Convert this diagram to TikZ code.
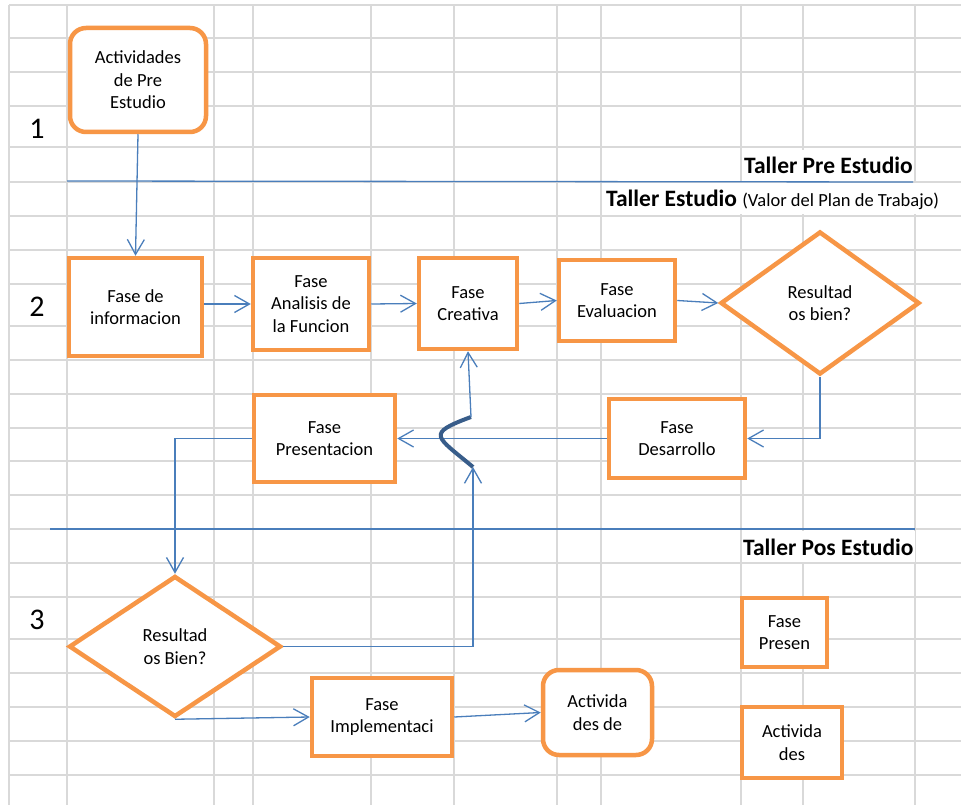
\documentclass[tikz,border=0pt]{standalone}
\usepackage{fontspec}
\setmainfont{Carlito}
\usetikzlibrary{shapes.geometric, arrows.meta}

\definecolor{naranja}{HTML}{F79646}
\definecolor{azul}{HTML}{4A7EBB}
\definecolor{azuloscuro}{HTML}{385D8A}
\definecolor{rejilla}{HTML}{D9D9D9}

\begin{document}
\begin{tikzpicture}[x=1pt, y=-1pt,
        caja/.style={draw=naranja, line width=4.5pt, fill=white, align=center, inner sep=0pt,
            font=\fontsize{18.5}{22.5}\selectfont},
        fase/.style={caja, rectangle},
        actividad/.style={caja, rectangle, rounded corners=16pt},
        decision/.style={caja, diamond},
        flecha/.style={->, >={Straight Barb[length=15pt, width=17pt]}, draw=azul, line width=1.3pt},
        linea/.style={draw=azul, line width=1.3pt},
        salto/.style={draw=azuloscuro, line width=4pt},
        titulo/.style={fill=white, inner xsep=1pt, inner ysep=0pt, text height=24pt, text depth=7pt,
            font=\fontsize{23.5}{28}\selectfont\bfseries},
        numero/.style={font=\fontsize{30}{36}\selectfont},
    ]
    \useasboundingbox (0,0) rectangle (961,805);
    \fill[white] (0,0) rectangle (961,805);

    % Grid
    \foreach \gx in {9,67,214,253,371,454,557,601,741,803,915}
        \draw[rejilla, line width=1.2pt] (\gx,5) -- (\gx,805);
    \foreach \gy in {5,38,72,106,147,182,216,250,284,326,360,394,428,461,495,529,563,597,639,673,707,741,775}
        \draw[rejilla, line width=1.2pt] (9,\gy) -- (961,\gy);

    % Titles
    \node[titulo, anchor=base east] (taller_pre) at (914,174) {Taller Pre Estudio};
    \node[titulo, anchor=base west] (taller_estudio) at (605,207) {Taller Estudio {\mdseries\fontsize{18.5}{22}\selectfont(Valor del Plan de Trabajo)}};
    \node[titulo, anchor=base west] (taller_pos) at (742,555) {Taller Pos Estudio};
    \node[numero] (num_uno) at (37,129) {1};
    \node[numero] (num_dos) at (37,307) {2};
    \node[numero] (num_tres) at (37,620) {3};

    \draw[linea] (67,181) -- (913,182);
    \draw[linea] (50,529) -- (915,529);

    % Nodes
    \node[actividad, minimum width=136pt, minimum height=104pt] (act_pre) at (138,80) {Actividades\\de Pre\\Estudio};
    \node[fase, minimum width=133pt, minimum height=98pt] (fase_info) at (135.5,307) {Fase de\\informacion};
    \node[fase, minimum width=116pt, minimum height=92pt] (fase_analisis) at (311,304) {Fase\\Analisis de\\la Funcion};
    \node[fase, minimum width=98pt, minimum height=91pt] (fase_creativa) at (468,303.5) {Fase\\Creativa};
    \node[fase, minimum width=116pt, minimum height=81pt] (fase_evaluacion) at (617,300.5) {Fase\\Evaluacion};
    \node[decision, minimum width=199pt, minimum height=143pt] (decision_bien) at (820,303) {Resultad\\os bien?};
    \node[fase, minimum width=136pt, minimum height=79pt] (fase_desarrollo) at (677,438.5) {Fase\\Desarrollo};
    \node[fase, minimum width=141pt, minimum height=87pt] (fase_presentacion) at (324.5,438.5) {Fase\\Presentacion};
    \node[decision, minimum width=212pt, minimum height=141pt] (decision_bien_pos) at (175,646.5) {Resultad\\os Bien?};
    \node[fase, minimum width=140pt, minimum height=78pt] (fase_implementacion) at (382,717) {Fase\\Implementaci};
    \node[actividad, minimum width=109pt, minimum height=85pt] (act_de) at (597.5,712.5) {Activida\\des de};
    \node[fase, minimum width=85pt, minimum height=69pt] (fase_presen) at (784.5,632.5) {Fase\\Presen};
    \node[fase, minimum width=100pt, minimum height=71pt] (act_des) at (792,742.5) {Activida\\des};
    \coordinate (salto_abajo) at (473,467);
    \coordinate (salto_arriba) at (471,417);

    % Arrows
    \draw[flecha] (act_pre.south) -- (fase_info.north);
    \draw[flecha] (fase_info.east |- fase_analisis.west) -- (fase_analisis.west);
    \draw[flecha] (fase_analisis.east) -- (fase_creativa.west);
    \draw[flecha] (fase_creativa.east) -- (fase_evaluacion.west);
    \draw[flecha] (fase_evaluacion.east) -- (decision_bien.west);
    \draw[flecha] (decision_bien.south) |- (fase_desarrollo.east);
    \draw[flecha] (fase_desarrollo.west) -- (fase_presentacion.east);
    \draw[flecha] (fase_presentacion.west) -| (decision_bien_pos.north);
    \draw[flecha] (decision_bien_pos.south) -- (fase_implementacion.west);
    \draw[flecha] (fase_implementacion.east) -- (act_de.west);
    \draw[flecha] (decision_bien_pos.east) -| (salto_abajo);
    \draw[salto] (salto_abajo) .. controls +(-37,-31) and +(-46,17) .. (salto_arriba);
    \draw[flecha] (salto_arriba) -- (fase_creativa.south);
\end{tikzpicture}
\end{document}
